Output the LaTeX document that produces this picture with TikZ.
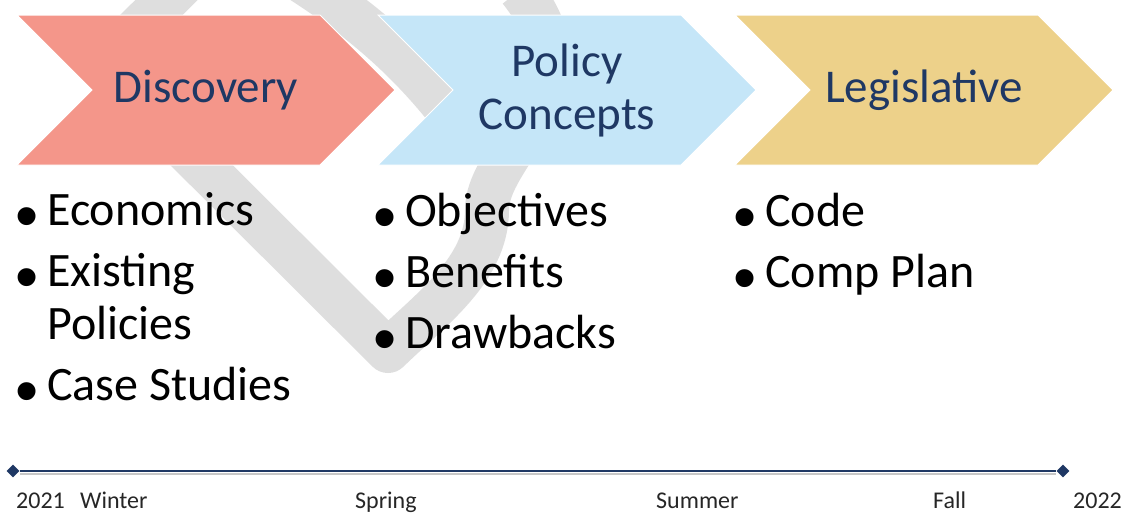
\documentclass[tikz,border=0pt]{standalone}
\usepackage{fontspec}
\setmainfont{Carlito}
\newfontfamily\bulletfont{Liberation Sans}
\usetikzlibrary{shapes.symbols,shapes.geometric,positioning}
\definecolor{discfill}{HTML}{F4968A}
\definecolor{polfill}{HTML}{C5E6F8}
\definecolor{legfill}{HTML}{EDD18A}
\definecolor{headtext}{HTML}{1F3864}
\definecolor{pingray}{HTML}{DEDEDE}
\definecolor{lineblue}{HTML}{1F3864}
\newcommand{\bul}{\makebox[31.5pt][l]{\raisebox{-13pt}{\bulletfont\fontsize{66}{66}\selectfont\textbullet}}}

\begin{document}
\begin{tikzpicture}[x=1pt,y=-1pt,
	chevron/.style={signal,signal from=west,signal to=east,signal pointer angle=90,
		minimum width=378pt,minimum height=150pt,inner sep=0pt,draw=white,line width=1pt,
		text=headtext,align=center,font=\fontsize{47}{53}\selectfont},
	itemlist/.style={anchor=base west,inner sep=0pt,align=left,font=\fontsize{48}{53}\selectfont},
	season/.style={anchor=base west,inner sep=0pt,text=black!85,font=\fontsize{24}{24}\selectfont},
	endmark/.style={diamond,fill=lineblue,minimum size=13pt,inner sep=0pt}]
	\useasboundingbox (0,0) rectangle (1126,512);

	% faint pin behind the stages
	\begin{scope}
		\clip (0,0) rectangle (1126,512);
		\draw[pingray,line width=44pt,line join=round] (470,140) .. controls (420,70) and (370,25) .. (300,-20);
		\draw[pingray,line width=44pt,line join=round] (230,-63) -- (101,65) -- (388,351)
			.. controls (430,310) and (487,270) .. (487,210)
			.. controls (487,150) and (600,90) .. (520,-10);
	\end{scope}

	% stages
	\node[chevron,fill=discfill] (disc) at (206,90) {Discovery};
	\node[chevron,fill=polfill] (pol) at (567,90) {Policy\\Concepts};
	\node[chevron,fill=legfill] (leg) at (924,90) {Legislative};

	% lists (anchored on their last line)
	\node[itemlist] (disclist) at (15.5,400) {\bul Economics\\[8pt]\bul Existing\\\hspace*{31.5pt}Policies\\[8pt]\bul Case Studies};
	\node[itemlist] (pollist) at (373.5,348) {\bul Objectives\\[8pt]\bul Benefits\\[8pt]\bul Drawbacks};
	\node[itemlist] (leglist) at (733.5,287) {\bul Code\\[8pt]\bul Comp Plan};

	% timeline
	\node[endmark] (tstart) at (13,471) {};
	\node[endmark] (tend) at (1063,471) {};
	\draw[black!22,line width=2.5pt] ([yshift=-3pt]tstart.east) -- ([yshift=-3pt]tend.west);
	\draw[lineblue,line width=2.5pt] (tstart) -- (tend);

	\node[season] (y2021) at (16,508) {2021};
	\node[season] (winter) at (80,508) {Winter};
	\node[season] (spring) at (355,508) {Spring};
	\node[season] (summer) at (656,508) {Summer};
	\node[season] (fall) at (933,508) {Fall};
	\node[season] (y2022) at (1073,508) {2022};
\end{tikzpicture}
\end{document}
